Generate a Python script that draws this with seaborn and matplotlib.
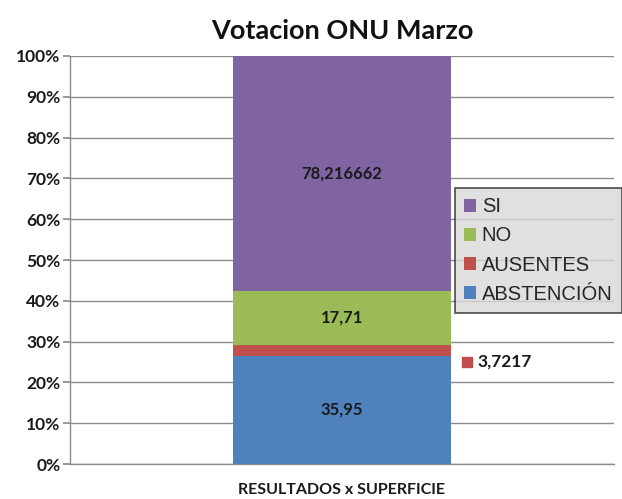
import matplotlib
matplotlib.use("Agg")
import matplotlib.pyplot as plt
import seaborn as sns
import pandas as pd
from matplotlib.patches import Patch
from matplotlib.ticker import PercentFormatter

# datos
categoria = ["RESULTADOS x SUPERFICIE"]
series = ["ABSTENCIÓN", "AUSENTES", "NO", "SI"]
valores = [35.95, 3.7217, 17.71, 78.216662]
etiquetas = ["35,95", "3,7217", "17,71", "78,216662"]
colores = ["#4F81BD", "#C0504D", "#9BBB59", "#8064A2"]

sns.set_theme(style="white")
plt.rcParams["font.family"] = ["Lato", "DejaVu Sans"]

df = pd.DataFrame({"serie": series, "valor": valores})
df["pct"] = df["valor"] / df["valor"].sum() * 100
df["base"] = df["pct"].cumsum() - df["pct"]

fig = plt.figure(figsize=(6.22, 4.99), dpi=100)
ax = fig.add_axes([0.1125, 0.0701, 0.8745, 0.8177])

for i, fila in df.iterrows():
    sns.barplot(x=categoria, y=[fila["pct"]], bottom=fila["base"], color=colores[i],
                width=0.4, ax=ax, saturation=1, edgecolor="none", zorder=3)

# etiquetas de datos
for i, fila in df.iterrows():
    if fila["serie"] == "AUSENTES":
        continue
    ax.text(0, fila["base"] + fila["pct"] / 2, etiquetas[i], ha="center", va="center",
            fontsize=12, fontweight="bold", color="#1a1a1a", zorder=4)

# etiqueta externa de AUSENTES
ax.scatter([0.23], [25.0], marker="s", s=50, color=colores[1], zorder=4, clip_on=False)
ax.text(0.25, 25.0, etiquetas[1], ha="left", va="center", fontsize=12.5,
        fontweight="bold", color="#1a1a1a")

ax.set_xlim(-0.5, 0.5)
ax.set_ylim(0, 100)
ax.set_yticks(range(0, 101, 10))
ax.yaxis.set_major_formatter(PercentFormatter(decimals=0))
ax.grid(axis="y", color="#8c8c8c", linewidth=1, zorder=0)
ax.set_axisbelow(True)
for s in ["top", "right"]:
    ax.spines[s].set_visible(False)
for s in ["left", "bottom"]:
    ax.spines[s].set_color("#8c8c8c")
    ax.spines[s].set_linewidth(1)
ax.tick_params(axis="y", left=True, length=5, color="#8c8c8c", labelsize=12.5, pad=2)
ax.tick_params(axis="x", bottom=False, labelsize=11.5, pad=8)
for t in ax.get_yticklabels() + ax.get_xticklabels():
    t.set_fontweight("bold")
    t.set_color("#1a1a1a")
ax.set_xlabel("")
ax.set_ylabel("")

ax.set_title("Votacion ONU Marzo", fontsize=19.5, fontweight="bold", color="#111111", pad=12)

handles = [Patch(facecolor=colores[i], edgecolor="none") for i in [3, 2, 1, 0]]
leg = fig.legend(handles, [series[i] for i in [3, 2, 1, 0]], loc="center left",
                 bbox_to_anchor=(0.731, 0.498), prop={"family": ["Liberation Sans"], "size": 14.5},
                 frameon=True, fancybox=False, handlelength=0.6, handleheight=0.6,
                 handletextpad=0.3, labelspacing=0.5, borderpad=0.45, borderaxespad=0)
leg.get_frame().set_facecolor("#d9d9d9")
leg.get_frame().set_edgecolor("#222222")
leg.get_frame().set_linewidth(1.2)

fig.savefig("out.png", dpi=100)
